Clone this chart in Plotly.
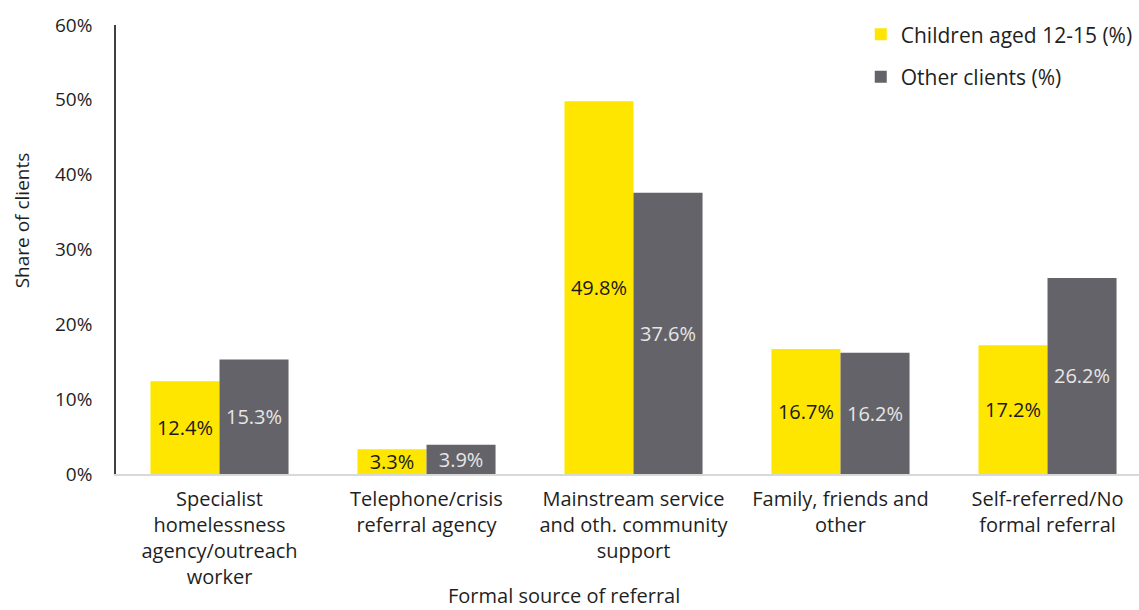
import plotly.graph_objects as go

# Referral sources and shares of clients (%)
categories = [
    "Specialist<br>homelessness<br>agency/outreach<br>worker",
    "Telephone/crisis<br>referral agency",
    "Mainstream service<br>and oth. community<br>support",
    "Family, friends and<br>other",
    "Self-referred/No<br>formal referral",
]
children_12_15 = [12.4, 3.3, 49.8, 16.7, 17.2]
other_clients = [15.3, 3.9, 37.6, 16.2, 26.2]

yellow = "#FFE600"
grey = "#646369"
font_family = "'Open Sans', sans-serif"
fs = 20

fig = go.Figure()
fig.add_trace(go.Bar(
    x=categories, y=children_12_15, name="Children aged 12-15 (%)",
    marker=dict(color=yellow, line=dict(width=0)),
    text=[f"{v:.1f}%" for v in children_12_15],
    textposition="inside", insidetextanchor="middle",
    textfont=dict(color="#1a1a1a", size=fs, family=font_family),
    constraintext="none", legendgroup="a",
))
fig.add_trace(go.Bar(
    x=categories, y=other_clients, name="Other clients (%)",
    marker=dict(color=grey, line=dict(width=0)),
    text=[f"{v:.1f}%" for v in other_clients],
    textposition="inside", insidetextanchor="middle",
    textfont=dict(color="#e6e6e6", size=fs, family=font_family),
    constraintext="none", legendgroup="b",
))

fig.update_layout(
    width=1139, height=610,
    margin=dict(l=116, r=0, t=25, b=136),
    paper_bgcolor="white", plot_bgcolor="white",
    barmode="group", bargap=0.333, bargroupgap=0,
    font=dict(family=font_family, size=fs, color="#1f1f1f"),
    uniformtext=dict(mode=False),
    legend=dict(
        x=0.728, y=1.024, xanchor="left", yanchor="top",
        font=dict(size=21), itemwidth=30, tracegroupgap=12,
        bgcolor="rgba(0,0,0,0)",
    ),
    showlegend=True,
)
fig.update_xaxes(
    range=[-0.5, 4.442], showline=True, linecolor="#d9d9d9", linewidth=2,
    ticks="", showgrid=False, tickfont=dict(size=fs), ticklabelstandoff=6,
)
fig.update_yaxes(
    range=[0, 60], dtick=10, ticksuffix="%", showline=True,
    linecolor="#404040", linewidth=1.5, showgrid=False, zeroline=False,
    ticks="", ticklabelstandoff=18, tickfont=dict(size=fs - 1),
)
fig.add_annotation(
    text="Share of clients", xref="paper", yref="paper",
    x=-116 / 1023 + 22 / 1023, y=0.565, textangle=-90, showarrow=False,
    xanchor="center", yanchor="middle", font=dict(size=fs - 1),
)
fig.add_annotation(
    text="Formal source of referral", xref="paper", yref="paper",
    x=(564 - 116) / 1023, y=-(595 - 474) / 449, showarrow=False,
    xanchor="center", yanchor="middle", font=dict(size=fs),
)

fig.write_html("out.html")
